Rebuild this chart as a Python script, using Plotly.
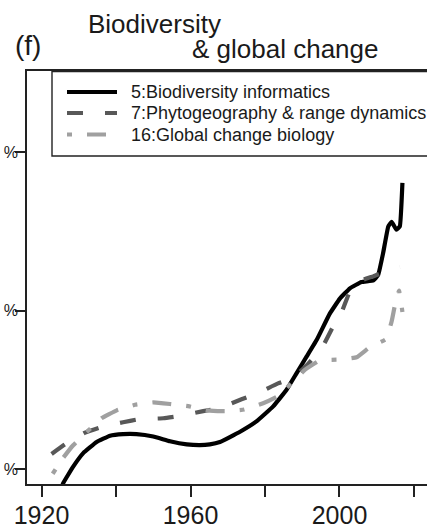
import plotly.graph_objects as go

# ---- data ----
series_names = ["5:Biodiversity informatics",
                "7:Phytogeography & range dynamics",
                "16:Global change biology"]

years5 = [1925.0, 1925.8, 1928.5, 1931.2, 1934.8, 1938.4, 1941.9, 1945.5, 1950.0,
          1954.5, 1959.0, 1962.5, 1965.2, 1967.9, 1973.3, 1977.7, 1982.2, 1985.8,
          1988.5, 1991.2, 1993.9, 1997.4, 2000.1, 2002.8, 2005.9, 2009.1, 2010.4,
          2011.7, 2013.1, 2014.0, 2015.3, 2016.2, 2016.9]
vals5 = [1.70, 1.82, 2.03, 2.20, 2.34, 2.42, 2.44, 2.44, 2.41,
         2.35, 2.31, 2.30, 2.31, 2.34, 2.47, 2.60, 2.79, 3.00,
         3.21, 3.42, 3.63, 3.96, 4.15, 4.28, 4.36, 4.38, 4.45,
         4.72, 5.06, 5.12, 5.02, 5.06, 5.61]

years7 = [1922.7, 1926.3, 1931.7, 1936.1, 1941.9, 1946.4, 1952.7, 1957.2, 1963.4,
          1967.9, 1973.7, 1978.2, 1983.5, 1987.6, 1991.2, 1995.2, 1998.3, 2000.6,
          2002.8, 2005.9, 2009.0, 2012.2, 2016.2]
vals7 = [2.19, 2.31, 2.46, 2.53, 2.59, 2.63, 2.64, 2.67, 2.73,
         2.77, 2.88, 2.96, 3.08, 3.15, 3.31, 3.52, 3.80, 3.98,
         4.24, 4.38, 4.43, 4.49, 4.55]

years16 = [1923.0, 1925.8, 1928.5, 1936.1, 1940.2, 1945.1, 1950.0, 1954.5, 1959.7,
           1964.3, 1969.2, 1974.4, 1979.5, 1983.5, 1990.7, 1994.7, 1999.7, 2004.6,
           2008.2, 2012.5, 2014.0, 2014.9, 2016.0, 2016.9]
vals16 = [1.94, 2.14, 2.30, 2.64, 2.74, 2.81, 2.84, 2.82, 2.79,
          2.74, 2.73, 2.75, 2.83, 2.92, 3.25, 3.37, 3.38, 3.41,
          3.54, 3.64, 3.86, 4.07, 4.25, 3.98]

x_tickvals = [1920, 1940, 1960, 1980, 2000, 2020]
x_ticktext = ["1920", "", "1960", "", "2000", ""]
y_tickvals = [2, 4, 6]
y_ticktext = ["%", "%", "%"]   # only the "%" of the y labels is visible in the panel

title_line1 = "Biodiversity"
title_line2 = "& global change"
panel_label = "(f)"

# ---- styling ----
FONT = "Liberation Sans, Arial, Helvetica, sans-serif"
TXT = "#1a1a1a"
W, H = 427, 529
ML, MR, MT, MB = 27, 0, 71, 45
PW, PH = W - ML - MR, H - MT - MB

def px2paper_x(px):
    return (px - ML) / PW

def px2paper_y(py):
    return (H - MB - py) / PH

styles = [
    dict(color="#000000", width=4.2, dash="solid"),
    dict(color="#585858", width=4.2, dash="16px,22px"),
    dict(color="#a0a0a0", width=4.2, dash="5px,15px,19px,15px"),
]

fig = go.Figure()
for name, xs, ys, st in zip(series_names, [years5, years7, years16],
                            [vals5, vals7, vals16], styles):
    fig.add_trace(go.Scatter(x=xs, y=ys, mode="lines", name=name,
                             line=dict(color=st["color"], width=st["width"],
                                       dash=st["dash"], shape="spline", smoothing=0.3),
                             showlegend=False))

# custom legend (box flush with plot top, extending past right edge)
shapes = [dict(type="rect", xref="paper", yref="paper",
               x0=px2paper_x(52), x1=px2paper_x(460),
               y0=px2paper_y(156), y1=px2paper_y(71.5),
               line=dict(color="#222", width=1.4), fillcolor="white", layer="above")]
annotations = []
leg_y = [92, 113, 134.5]
for name, st, yy in zip(series_names, styles, leg_y):
    shapes.append(dict(type="line", xref="paper", yref="paper",
                       x0=px2paper_x(67), x1=px2paper_x(117),
                       y0=px2paper_y(yy), y1=px2paper_y(yy),
                       line=dict(color=st["color"], width=st["width"], dash=st["dash"]),
                       layer="above"))
    annotations.append(dict(text=name, xref="paper", yref="paper",
                            x=px2paper_x(129), y=px2paper_y(yy),
                            xanchor="left", yanchor="middle", showarrow=False,
                            font=dict(family=FONT, size=18, color=TXT)))

# titles
annotations += [
    dict(text=title_line1, xref="paper", yref="paper", x=px2paper_x(86),
         y=px2paper_y(24), xanchor="left", yanchor="middle", showarrow=False,
         font=dict(family=FONT, size=26, color=TXT)),
    dict(text=title_line2, xref="paper", yref="paper", x=px2paper_x(190),
         y=px2paper_y(49), xanchor="left", yanchor="middle", showarrow=False,
         font=dict(family=FONT, size=26, color=TXT)),
    dict(text=panel_label, xref="paper", yref="paper", x=px2paper_x(13),
         y=px2paper_y(45), xanchor="left", yanchor="middle", showarrow=False,
         font=dict(family=FONT, size=28, color=TXT)),
]

fig.update_layout(
    width=W, height=H, template="none",
    margin=dict(l=ML, r=MR, t=MT, b=MB, pad=0),
    paper_bgcolor="white", plot_bgcolor="white",
    shapes=shapes, annotations=annotations, showlegend=False,
    xaxis=dict(range=[1916.1, 2023.5], tickvals=x_tickvals, ticktext=x_ticktext,
               showgrid=False, zeroline=False, showline=True, mirror=True,
               linecolor="#222", linewidth=1.6, ticks="outside", ticklen=11,
               tickwidth=1.6, tickcolor="#222", automargin=False,
               ticklabelstandoff=-3,
               tickfont=dict(family=FONT, size=25, color=TXT)),
    yaxis=dict(range=[1.8107, 7.022], tickvals=y_tickvals, ticktext=y_ticktext,
               showgrid=False, zeroline=False, showline=True, mirror=False,
               linecolor="#222", linewidth=1.6, ticks="outside", ticklen=10,
               tickwidth=1.6, tickcolor="#222", automargin=False,
               ticklabelstandoff=-6,
               tickfont=dict(family=FONT, size=16, color=TXT)),
)

fig.write_html("out.html")
